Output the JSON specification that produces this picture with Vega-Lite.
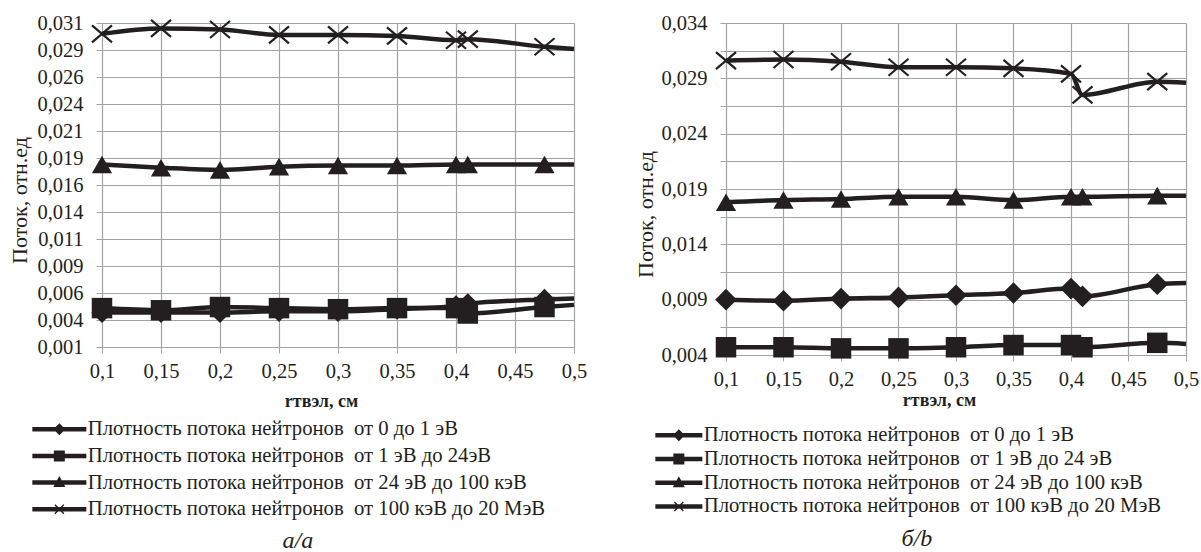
{
  "$schema": "https://vega.github.io/schema/vega-lite/v6.json",
  "padding": {"left": 8, "top": 13, "right": 2, "bottom": 0},
  "background": "white",
  "config": {
    "font": "Liberation Serif",
    "view": {"stroke": null},
    "axis": {
      "labelFont": "Liberation Serif", "labelFontSize": 20.5, "labelColor": "#231f20",
      "titleFont": "Liberation Serif", "titleColor": "#231f20",
      "gridColor": "#a3a3a3", "gridWidth": 1.2, "gridOpacity": 1,
      "domainColor": "#a3a3a3", "tickColor": "#a3a3a3", "tickSize": 6
    },
    "axisX": {"labelPadding": 8, "labelFlush": false, "titleFontSize": 18, "titleFontWeight": "bold"},
    "axisY": {"labelPadding": 13, "titleFontSize": 22, "titleFontWeight": "normal"},
    "legend": {
      "labelFont": "Liberation Serif", "labelFontSize": 20.7, "labelColor": "#231f20", "labelLimit": 600,
      "orient": "none", "direction": "vertical", "title": null,
      "symbolSize": 100, "symbolStrokeWidth": 0, "symbolFillColor": "#231f20", "symbolStrokeColor": "#231f20", "symbolOpacity": 1
    }
  },
  "resolve": {"scale": {"shape": "independent"}, "legend": {"shape": "independent"}},
  "spacing": 47,
  "datasets": {
    "a": [
      {"r": 0.1, "series": "Плотность потока нейтронов\u00a0 от 0 до 1 эВ", "flux": 0.0042},
      {"r": 0.15, "series": "Плотность потока нейтронов\u00a0 от 0 до 1 эВ", "flux": 0.0042},
      {"r": 0.2, "series": "Плотность потока нейтронов\u00a0 от 0 до 1 эВ", "flux": 0.0042},
      {"r": 0.25, "series": "Плотность потока нейтронов\u00a0 от 0 до 1 эВ", "flux": 0.0043},
      {"r": 0.3, "series": "Плотность потока нейтронов\u00a0 от 0 до 1 эВ", "flux": 0.0043},
      {"r": 0.35, "series": "Плотность потока нейтронов\u00a0 от 0 до 1 эВ", "flux": 0.0045},
      {"r": 0.4, "series": "Плотность потока нейтронов\u00a0 от 0 до 1 эВ", "flux": 0.0048},
      {"r": 0.41, "series": "Плотность потока нейтронов\u00a0 от 0 до 1 эВ", "flux": 0.0050},
      {"r": 0.475, "series": "Плотность потока нейтронов\u00a0 от 0 до 1 эВ", "flux": 0.0054},
      {"r": 0.5, "series": "Плотность потока нейтронов\u00a0 от 0 до 1 эВ", "flux": 0.0055},
      {"r": 0.1, "series": "Плотность потока нейтронов\u00a0 от 1 эВ до 24эВ", "flux": 0.0046},
      {"r": 0.15, "series": "Плотность потока нейтронов\u00a0 от 1 эВ до 24эВ", "flux": 0.0044},
      {"r": 0.2, "series": "Плотность потока нейтронов\u00a0 от 1 эВ до 24эВ", "flux": 0.0047},
      {"r": 0.25, "series": "Плотность потока нейтронов\u00a0 от 1 эВ до 24эВ", "flux": 0.0046},
      {"r": 0.3, "series": "Плотность потока нейтронов\u00a0 от 1 эВ до 24эВ", "flux": 0.0045},
      {"r": 0.35, "series": "Плотность потока нейтронов\u00a0 от 1 эВ до 24эВ", "flux": 0.0046},
      {"r": 0.4, "series": "Плотность потока нейтронов\u00a0 от 1 эВ до 24эВ", "flux": 0.0046},
      {"r": 0.41, "series": "Плотность потока нейтронов\u00a0 от 1 эВ до 24эВ", "flux": 0.0041},
      {"r": 0.475, "series": "Плотность потока нейтронов\u00a0 от 1 эВ до 24эВ", "flux": 0.0047},
      {"r": 0.5, "series": "Плотность потока нейтронов\u00a0 от 1 эВ до 24эВ", "flux": 0.0049},
      {"r": 0.1, "series": "Плотность потока нейтронов\u00a0 от 24 эВ до 100 кэВ", "flux": 0.0179},
      {"r": 0.15, "series": "Плотность потока нейтронов\u00a0 от 24 эВ до 100 кэВ", "flux": 0.0176},
      {"r": 0.2, "series": "Плотность потока нейтронов\u00a0 от 24 эВ до 100 кэВ", "flux": 0.0174},
      {"r": 0.25, "series": "Плотность потока нейтронов\u00a0 от 24 эВ до 100 кэВ", "flux": 0.0177},
      {"r": 0.3, "series": "Плотность потока нейтронов\u00a0 от 24 эВ до 100 кэВ", "flux": 0.0178},
      {"r": 0.35, "series": "Плотность потока нейтронов\u00a0 от 24 эВ до 100 кэВ", "flux": 0.0178},
      {"r": 0.4, "series": "Плотность потока нейтронов\u00a0 от 24 эВ до 100 кэВ", "flux": 0.0179},
      {"r": 0.41, "series": "Плотность потока нейтронов\u00a0 от 24 эВ до 100 кэВ", "flux": 0.0179},
      {"r": 0.475, "series": "Плотность потока нейтронов\u00a0 от 24 эВ до 100 кэВ", "flux": 0.0179},
      {"r": 0.5, "series": "Плотность потока нейтронов\u00a0 от 24 эВ до 100 кэВ", "flux": 0.0179},
      {"r": 0.1, "series": "Плотность потока нейтронов\u00a0 от 100 кэВ до 20 МэВ", "flux": 0.0300},
      {"r": 0.15, "series": "Плотность потока нейтронов\u00a0 от 100 кэВ до 20 МэВ", "flux": 0.0305},
      {"r": 0.2, "series": "Плотность потока нейтронов\u00a0 от 100 кэВ до 20 МэВ", "flux": 0.0304},
      {"r": 0.25, "series": "Плотность потока нейтронов\u00a0 от 100 кэВ до 20 МэВ", "flux": 0.0299},
      {"r": 0.3, "series": "Плотность потока нейтронов\u00a0 от 100 кэВ до 20 МэВ", "flux": 0.0299},
      {"r": 0.35, "series": "Плотность потока нейтронов\u00a0 от 100 кэВ до 20 МэВ", "flux": 0.0298},
      {"r": 0.4, "series": "Плотность потока нейтронов\u00a0 от 100 кэВ до 20 МэВ", "flux": 0.0294},
      {"r": 0.41, "series": "Плотность потока нейтронов\u00a0 от 100 кэВ до 20 МэВ", "flux": 0.0295},
      {"r": 0.475, "series": "Плотность потока нейтронов\u00a0 от 100 кэВ до 20 МэВ", "flux": 0.0288},
      {"r": 0.5, "series": "Плотность потока нейтронов\u00a0 от 100 кэВ до 20 МэВ", "flux": 0.0286}
    ],
    "b": [
      {"r": 0.1, "series": "Плотность потока нейтронов\u00a0 от 0 до 1 эВ", "flux": 0.0090},
      {"r": 0.15, "series": "Плотность потока нейтронов\u00a0 от 0 до 1 эВ", "flux": 0.0089},
      {"r": 0.2, "series": "Плотность потока нейтронов\u00a0 от 0 до 1 эВ", "flux": 0.0091},
      {"r": 0.25, "series": "Плотность потока нейтронов\u00a0 от 0 до 1 эВ", "flux": 0.0092},
      {"r": 0.3, "series": "Плотность потока нейтронов\u00a0 от 0 до 1 эВ", "flux": 0.0094},
      {"r": 0.35, "series": "Плотность потока нейтронов\u00a0 от 0 до 1 эВ", "flux": 0.0096},
      {"r": 0.4, "series": "Плотность потока нейтронов\u00a0 от 0 до 1 эВ", "flux": 0.0100},
      {"r": 0.41, "series": "Плотность потока нейтронов\u00a0 от 0 до 1 эВ", "flux": 0.0093},
      {"r": 0.475, "series": "Плотность потока нейтронов\u00a0 от 0 до 1 эВ", "flux": 0.0104},
      {"r": 0.5, "series": "Плотность потока нейтронов\u00a0 от 0 до 1 эВ", "flux": 0.0105},
      {"r": 0.1, "series": "Плотность потока нейтронов\u00a0 от 1 эВ до 24 эВ", "flux": 0.0047},
      {"r": 0.15, "series": "Плотность потока нейтронов\u00a0 от 1 эВ до 24 эВ", "flux": 0.0047},
      {"r": 0.2, "series": "Плотность потока нейтронов\u00a0 от 1 эВ до 24 эВ", "flux": 0.0046},
      {"r": 0.25, "series": "Плотность потока нейтронов\u00a0 от 1 эВ до 24 эВ", "flux": 0.0046},
      {"r": 0.3, "series": "Плотность потока нейтронов\u00a0 от 1 эВ до 24 эВ", "flux": 0.0047},
      {"r": 0.35, "series": "Плотность потока нейтронов\u00a0 от 1 эВ до 24 эВ", "flux": 0.0049},
      {"r": 0.4, "series": "Плотность потока нейтронов\u00a0 от 1 эВ до 24 эВ", "flux": 0.0049},
      {"r": 0.41, "series": "Плотность потока нейтронов\u00a0 от 1 эВ до 24 эВ", "flux": 0.0047},
      {"r": 0.475, "series": "Плотность потока нейтронов\u00a0 от 1 эВ до 24 эВ", "flux": 0.0051},
      {"r": 0.5, "series": "Плотность потока нейтронов\u00a0 от 1 эВ до 24 эВ", "flux": 0.0050},
      {"r": 0.1, "series": "Плотность потока нейтронов\u00a0 от 24 эВ до 100 кэВ", "flux": 0.0178},
      {"r": 0.15, "series": "Плотность потока нейтронов\u00a0 от 24 эВ до 100 кэВ", "flux": 0.0180},
      {"r": 0.2, "series": "Плотность потока нейтронов\u00a0 от 24 эВ до 100 кэВ", "flux": 0.0181},
      {"r": 0.25, "series": "Плотность потока нейтронов\u00a0 от 24 эВ до 100 кэВ", "flux": 0.0183},
      {"r": 0.3, "series": "Плотность потока нейтронов\u00a0 от 24 эВ до 100 кэВ", "flux": 0.0183},
      {"r": 0.35, "series": "Плотность потока нейтронов\u00a0 от 24 эВ до 100 кэВ", "flux": 0.0180},
      {"r": 0.4, "series": "Плотность потока нейтронов\u00a0 от 24 эВ до 100 кэВ", "flux": 0.0183},
      {"r": 0.41, "series": "Плотность потока нейтронов\u00a0 от 24 эВ до 100 кэВ", "flux": 0.0183},
      {"r": 0.475, "series": "Плотность потока нейтронов\u00a0 от 24 эВ до 100 кэВ", "flux": 0.0184},
      {"r": 0.5, "series": "Плотность потока нейтронов\u00a0 от 24 эВ до 100 кэВ", "flux": 0.0184},
      {"r": 0.1, "series": "Плотность потока нейтронов\u00a0 от 100 кэВ до 20 МэВ", "flux": 0.0306},
      {"r": 0.15, "series": "Плотность потока нейтронов\u00a0 от 100 кэВ до 20 МэВ", "flux": 0.0307},
      {"r": 0.2, "series": "Плотность потока нейтронов\u00a0 от 100 кэВ до 20 МэВ", "flux": 0.0305},
      {"r": 0.25, "series": "Плотность потока нейтронов\u00a0 от 100 кэВ до 20 МэВ", "flux": 0.0300},
      {"r": 0.3, "series": "Плотность потока нейтронов\u00a0 от 100 кэВ до 20 МэВ", "flux": 0.0300},
      {"r": 0.35, "series": "Плотность потока нейтронов\u00a0 от 100 кэВ до 20 МэВ", "flux": 0.0299},
      {"r": 0.4, "series": "Плотность потока нейтронов\u00a0 от 100 кэВ до 20 МэВ", "flux": 0.0294},
      {"r": 0.41, "series": "Плотность потока нейтронов\u00a0 от 100 кэВ до 20 МэВ", "flux": 0.0275},
      {"r": 0.475, "series": "Плотность потока нейтронов\u00a0 от 100 кэВ до 20 МэВ", "flux": 0.0287},
      {"r": 0.5, "series": "Плотность потока нейтронов\u00a0 от 100 кэВ до 20 МэВ", "flux": 0.0286}
    ]
  },
  "hconcat": [
    {
      "width": 472, "height": 324,
      "data": {"name": "a"},
      "title": {"text": "а/a", "orient": "bottom", "anchor": "middle", "frame": "bounds", "font": "Liberation Serif", "fontStyle": "italic", "fontWeight": "normal", "fontSize": 24, "color": "#231f20", "offset": 10},
      "encoding": {
        "x": {"field": "r", "type": "quantitative", "scale": {"domain": [0.1, 0.5], "nice": false, "zero": false},
          "axis": {"values": [0.1, 0.15, 0.2, 0.25, 0.3, 0.35, 0.4, 0.45, 0.5], "labelExpr": "replace(format(datum.value, '.2~f'), '.', ',')", "title": "rтвэл, см", "titlePadding": 11, "titleX": 219}},
        "y": {"field": "flux", "type": "quantitative", "scale": {"domain": [0.001, 0.031], "nice": false, "zero": false},
          "axis": {"values": [0.001, 0.0035, 0.006, 0.0085, 0.011, 0.0135, 0.016, 0.0185, 0.021, 0.0235, 0.026, 0.0285, 0.031], "labelExpr": "replace(format(datum.value + 0.0000001, '.3f'), '.', ',')", "title": "Поток, отн.ед", "titlePadding": 5, "titleY": 177}},
        "detail": {"field": "series", "type": "nominal"}
      },
      "layer": [
        {"mark": {"type": "line", "interpolate": "monotone", "strokeWidth": 4.5, "color": "#231f20"}, "encoding": {}},
        {"transform": [{"filter": "datum.r < 0.49 && indexof(datum.series, 'от 0 ') >= 0"}],
          "mark": {"type": "point", "shape": "diamond", "filled": true, "size": 450, "color": "#231f20", "opacity": 1}, "encoding": {}},
        {"transform": [{"filter": "datum.r < 0.49 && indexof(datum.series, 'от 1 ') >= 0"}],
          "mark": {"type": "point", "shape": "square", "filled": true, "size": 420, "color": "#231f20", "opacity": 1}, "encoding": {}},
        {"transform": [{"filter": "datum.r < 0.49 && indexof(datum.series, 'от 24') >= 0"}],
          "mark": {"type": "point", "shape": "triangle-up", "filled": true, "size": 410, "color": "#231f20", "opacity": 1}, "encoding": {}},
        {"transform": [{"filter": "datum.r < 0.49 && indexof(datum.series, 'от 100') >= 0"}],
          "mark": {"type": "point", "filled": false, "size": 400, "shape": "M-1,-0.85L1,0.85M-1,0.85L1,-0.85", "strokeWidth": 2.2, "color": "#231f20", "opacity": 1}, "encoding": {}},
        {"transform": [{"filter": "datum.r > 1"}],
          "mark": {"type": "point", "filled": true, "color": "#231f20", "opacity": 1},
          "encoding": {
            "shape": {"field": "series", "type": "nominal",
              "scale": {"domain": ["Плотность потока нейтронов\u00a0 от 0 до 1 эВ", "Плотность потока нейтронов\u00a0 от 1 эВ до 24эВ", "Плотность потока нейтронов\u00a0 от 24 эВ до 100 кэВ", "Плотность потока нейтронов\u00a0 от 100 кэВ до 20 МэВ"],
                "range": [
                  "M-5.4,-0.45L-0.75,-0.45L0,-1.2L0.75,-0.45L5.4,-0.45L5.4,0.45L0.75,0.45L0,1.2L-0.75,0.45L-5.4,0.45Z",
                  "M-5.4,-0.45L5.4,-0.45L5.4,0.45L-5.4,0.45Z M-1.1,-1.1L1.1,-1.1L1.1,1.1L-1.1,1.1Z",
                  "M-5.4,-0.45L5.4,-0.45L5.4,0.45L-5.4,0.45Z M0,-1.3L1.2,0.9L-1.2,0.9Z",
                  "M-5.4,-0.45L5.4,-0.45L5.4,0.45L-5.4,0.45Z M-0.8,-1L1,0.8L0.8,1L-1,-0.8Z M0.8,-1L1,-0.8L-0.8,1L-1,0.8Z"
                ]},
              "legend": {"legendX": -68, "legendY": 396, "symbolOffset": 15, "labelOffset": 18, "rowPadding": 4.6}}
          }
        }
      ]
    },
    {
      "width": 460, "height": 332,
      "data": {"name": "b"},
      "title": {"text": "б/b", "orient": "bottom", "anchor": "middle", "frame": "bounds", "font": "Liberation Serif", "fontStyle": "italic", "fontWeight": "normal", "fontSize": 24, "color": "#231f20", "offset": 10},
      "encoding": {
        "x": {"field": "r", "type": "quantitative", "scale": {"domain": [0.1, 0.5], "nice": false, "zero": false},
          "axis": {"values": [0.1, 0.15, 0.2, 0.25, 0.3, 0.35, 0.4, 0.45, 0.5], "labelExpr": "replace(format(datum.value, '.2~f'), '.', ',')", "title": "rтвэл, см", "titlePadding": 2, "titleX": 213}},
        "y": {"field": "flux", "type": "quantitative", "scale": {"domain": [0.004, 0.034], "nice": false, "zero": false},
          "axis": {"values": [0.004, 0.0065, 0.009, 0.0115, 0.014, 0.0165, 0.019, 0.0215, 0.024, 0.0265, 0.029, 0.0315, 0.034],
            "labelExpr": "round((datum.value - 0.004) / 0.0025) % 2 == 0 ? replace(format(datum.value, '.3f'), '.', ',') : ''",
            "title": "Поток, отн.ед", "titlePadding": 3, "titleY": 191}},
        "detail": {"field": "series", "type": "nominal"}
      },
      "layer": [
        {"mark": {"type": "line", "interpolate": "monotone", "strokeWidth": 4.5, "color": "#231f20"}, "encoding": {}},
        {"transform": [{"filter": "datum.r < 0.49 && indexof(datum.series, 'от 0 ') >= 0"}],
          "mark": {"type": "point", "shape": "diamond", "filled": true, "size": 470, "color": "#231f20", "opacity": 1}, "encoding": {}},
        {"transform": [{"filter": "datum.r < 0.49 && indexof(datum.series, 'от 1 ') >= 0"}],
          "mark": {"type": "point", "shape": "square", "filled": true, "size": 420, "color": "#231f20", "opacity": 1}, "encoding": {}},
        {"transform": [{"filter": "datum.r < 0.49 && indexof(datum.series, 'от 24') >= 0"}],
          "mark": {"type": "point", "shape": "triangle-up", "filled": true, "size": 410, "color": "#231f20", "opacity": 1}, "encoding": {}},
        {"transform": [{"filter": "datum.r < 0.49 && indexof(datum.series, 'от 100') >= 0"}],
          "mark": {"type": "point", "filled": false, "size": 400, "shape": "M-1,-0.85L1,0.85M-1,0.85L1,-0.85", "strokeWidth": 2.2, "color": "#231f20", "opacity": 1}, "encoding": {}},
        {"transform": [{"filter": "datum.r > 1"}],
          "mark": {"type": "point", "filled": true, "color": "#231f20", "opacity": 1},
          "encoding": {
            "shape": {"field": "series", "type": "nominal",
              "scale": {"domain": ["Плотность потока нейтронов\u00a0 от 0 до 1 эВ", "Плотность потока нейтронов\u00a0 от 1 эВ до 24 эВ", "Плотность потока нейтронов\u00a0 от 24 эВ до 100 кэВ", "Плотность потока нейтронов\u00a0 от 100 кэВ до 20 МэВ"],
                "range": [
                  "M-4.7,-0.45L-0.75,-0.45L0,-1.2L0.75,-0.45L4.7,-0.45L4.7,0.45L0.75,0.45L0,1.2L-0.75,0.45L-4.7,0.45Z",
                  "M-4.7,-0.45L4.7,-0.45L4.7,0.45L-4.7,0.45Z M-1.1,-1.1L1.1,-1.1L1.1,1.1L-1.1,1.1Z",
                  "M-4.7,-0.45L4.7,-0.45L4.7,0.45L-4.7,0.45Z M0,-1.3L1.2,0.9L-1.2,0.9Z",
                  "M-4.7,-0.45L4.7,-0.45L4.7,0.45L-4.7,0.45Z M-0.8,-1L1,0.8L0.8,1L-1,-0.8Z M0.8,-1L1,-0.8L-0.8,1L-1,0.8Z"
                ]},
              "legend": {"legendX": -69, "legendY": 402, "symbolOffset": 11.5, "labelOffset": 14.5, "rowPadding": 1.7}}
          }
        }
      ]
    }
  ]
}
